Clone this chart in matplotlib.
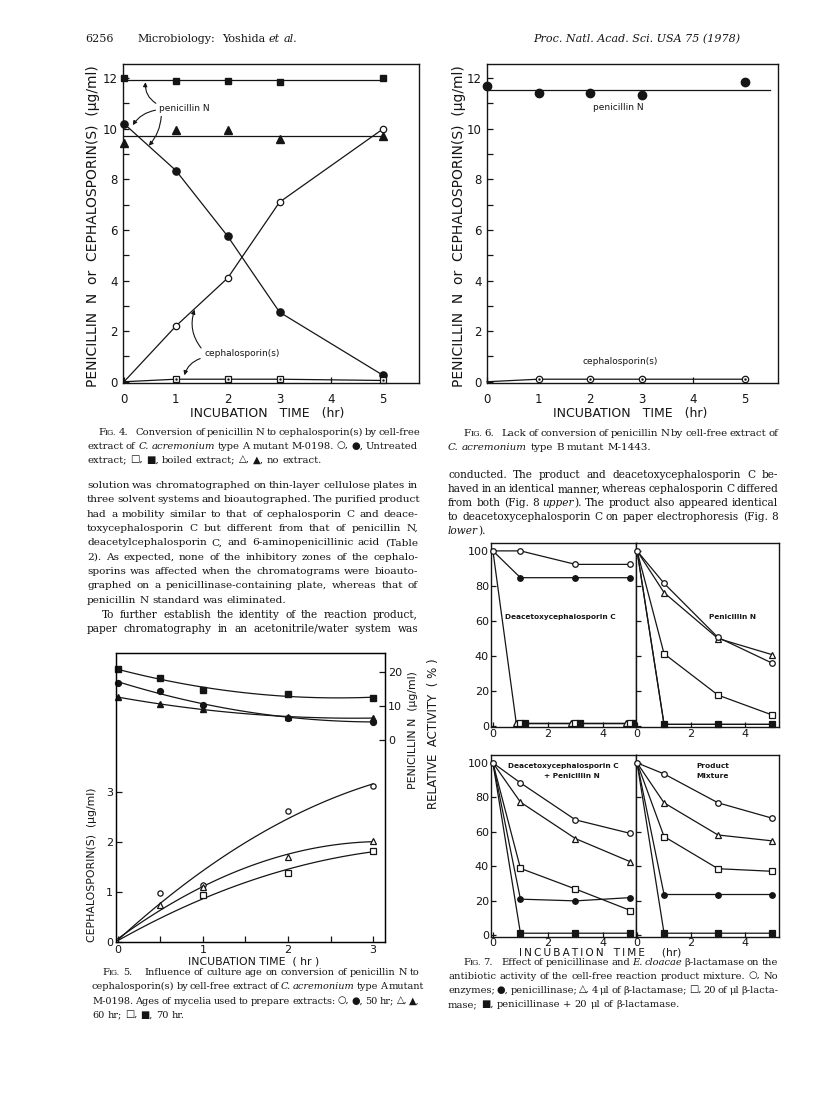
import re
import numpy as np
import matplotlib
matplotlib.use("Agg")
import matplotlib.pyplot as plt

plt.rcParams['font.family'] = ['DejaVu Sans']

W, H = 816, 1093
INK = '#151515'
SERIF = ['DejaVu Serif', 'DejaVu Sans']

# ---- Fig. 4 data (type A mutant M-0198) ----
t4 = [0, 1, 2, 3, 5]
untreated_ceph = [0, 2.2, 4.1, 7.1, 10.0]
untreated_pen = [10.2, 8.35, 5.75, 2.75, 0.25]
boiled_ceph = [0, 0.1, 0.1, 0.1, 0.05]
boiled_pen = [12.0, 11.9, 11.9, 11.85, 12.0]
noext_pen = [9.45, 9.95, 9.95, 9.6, 9.7]

# ---- Fig. 6 data (type B mutant M-1443) ----
t6 = [0, 1, 2, 3, 5]
pen6 = [11.7, 11.4, 11.4, 11.35, 11.85]
ceph6 = [0, 0.1, 0.1, 0.1, 0.1]

# ---- Fig. 5 data (culture age) ----
t5 = [0, 0.5, 1, 2, 3]
pen_50 = [16.8, 14.4, 10.3, 6.6, 5.4]
pen_60 = [12.6, 10.6, 9.1, 6.8, 6.5]
pen_70 = [20.9, 18.2, 14.7, 13.5, 12.4]
ceph_50 = [0, 0.98, 1.14, 2.62, 3.12]
ceph_60 = [0, 0.74, 1.1, 1.7, 2.03]
t5_sq = [0, 1, 2, 3]
ceph_70 = [0, 0.94, 1.38, 1.83]

# ---- Fig. 7 data (relative activity, %) ----
t7 = [0, 1, 3, 5]
dc_none = [100, 100, 92.3, 92.3]
dc_pase = [100, 84.7, 84.7, 84.7]
t7_dc_tri = [0, 0.85, 2.85, 4.85]
dc_bl4 = [100, 1.5, 1.5, 1.5]
t7_dc_sq = [1.0, 3.0, 5.0]
dc_bl20 = [1.5, 1.5, 1.5]
t7_dc_fsq = [1.15, 3.15, 5.15]
dc_mix = [1.5, 1.5, 1.5]

pn_none = [100, 81.5, 50.6, 36]
pn_pase = [100, 1, 1, 1]
pn_bl4 = [100, 76.2, 50, 40.8]
pn_bl20 = [100, 41.3, 17.7, 6.4]
pn_mix = [100, 1, 1, 1]

dp_none = [100, 88.4, 66.9, 59]
dp_pase = [100, 20.8, 19.8, 21.7]
dp_bl4 = [100, 77.2, 56, 42.5]
dp_bl20 = [100, 38.7, 26.7, 14.2]
dp_mix = [100, 1, 1, 1]

pm_none = [100, 93.6, 76.8, 67.9]
pm_pase = [100, 23.5, 23.5, 23.5]
pm_bl4 = [100, 76.8, 58.1, 54.7]
pm_bl20 = [100, 57.2, 38.5, 37]
pm_mix = [100, 1, 1, 1]

fig = plt.figure(figsize=(W / 100, H / 100), dpi=100)
renderer = fig.canvas.get_renderer()


def fx(x):
    return x / W


def fy(y):
    return 1 - y / H


def add_ax(left, top, right, bottom):
    ax = fig.add_axes([fx(left), fy(bottom), (right - left) / W, (bottom - top) / H])
    for s in ax.spines.values():
        s.set_linewidth(1.0)
        s.set_color(INK)
    ax.tick_params(direction='in', colors=INK, width=0.9, length=4)
    return ax


def parse(markup):
    pieces = []
    for m in re.finditer(r'\*([^*]+)\*|~([^~]+)~|([^*~]+)', markup):
        if m.group(1):
            pieces.append((m.group(1), 'italic', 1.0))
        elif m.group(2):
            s = m.group(2).upper()
            pieces.append((s[0], 'normal', 1.0))
            pieces.append((s[1:], 'normal', 0.78))
        else:
            pieces.append((m.group(3), 'normal', 1.0))
    words, cur, gap = [], [], 0
    for text, st, sf in pieces:
        for part in re.split(r'( +)', text):
            if not part:
                continue
            if part.startswith(' '):
                if cur:
                    words.append((gap, cur))
                    cur = []
                gap = len(part)
            else:
                cur.append((part, st, sf))
    if cur:
        words.append((gap, cur))
    return words


def build(y, markup, size):
    items, total = [], 0
    for gap, pcs in parse(markup):
        objs, w = [], 0
        for text, st, sf in pcs:
            t = fig.text(0, fy(y), text, fontsize=size * sf, family=SERIF,
                         style=st, va='baseline', ha='left', color=INK)
            tw = t.get_window_extent(renderer).width
            objs.append((t, tw))
            w += tw
        items.append((gap, objs, w))
        total += w
    return items, total


def fit_size(x0, x1, markup, size):
    # largest size (<= size) at which the line fits with tight word spaces
    items, total = build(0, markup, size)
    for _, objs, _ in items:
        for t, _ in objs:
            t.remove()
    sp = 0.32 * size * 100 / 72
    need = total + 0.6 * sp * sum(g for g, _, _ in items[1:])
    return min(size, size * (x1 - x0) / need)


def put_line(x0, x1, y, markup, size=7.6, justify=True):
    items, total = build(y, markup, size)
    sp = 0.32 * size * 100 / 72
    gaps = [g for g, _, _ in items[1:]]
    extra = 0
    if justify and gaps:
        extra = (x1 - x0 - total - sp * sum(gaps)) / sum(gaps)
        extra = max(extra, -0.4 * sp)
    x = x0
    for i, (g, objs, w) in enumerate(items):
        if i > 0:
            x += g * (sp + extra)
        for t, tw in objs:
            t.set_x(fx(x))
            x += tw


def paragraph(x0, x1, y0, step, lines, size=7.6, first_indent=0, last_just=False):
    n = len(lines)
    starts = [x0 + (first_indent if i == 0 else 0) for i in range(n)]
    just = [(i < n - 1) or last_just for i in range(n)]
    for i, ln in enumerate(lines):
        if just[i]:
            size = min(size, fit_size(starts[i], x1, ln, size))
    for i, ln in enumerate(lines):
        put_line(starts[i], x1, y0 + i * step, ln, size=size, justify=just[i])


def tracked(s):
    return '\u2009'.join(s)


def sans(x, y, s, size=8.5, rot=0, **kw):
    fig.text(fx(x), fy(y), s, fontsize=size, rotation=rot, ha='center',
             va='center', color=INK, **kw)


# ---- running heads ----
put_line(85, 110, 42, "6256", size=8, justify=False)
put_line(137, 400, 42, "Microbiology:  Yoshida *et al.*", size=8, justify=False)
fig.text(fx(533), fy(42), "Proc. Natl. Acad. Sci. USA 75 (1978)", fontsize=8,
         family=SERIF, style='italic', ha='left', va='baseline', color=INK)

# ---- Fig. 4 ----
ax4 = add_ax(123, 64, 419, 383)
ax4.set_xlim(-0.02, 5.69)
ax4.set_ylim(-0.05, 12.56)
ax4.plot([t4[0], t4[-1]], [np.mean(boiled_pen)] * 2, color=INK, lw=0.9)
ax4.plot(t4, boiled_pen, 's', color=INK, ms=4.6, clip_on=False)
ax4.plot([t4[0], t4[-1]], [np.mean(noext_pen)] * 2, color=INK, lw=0.9)
ax4.plot(t4, noext_pen, '^', color=INK, ms=5.2, clip_on=False)
ax4.plot(t4, untreated_pen, '-o', color=INK, lw=0.9, ms=5.2, clip_on=False)
ax4.plot(t4, untreated_ceph, color=INK, lw=0.9, clip_on=False)
ax4.plot(t4[1:], untreated_ceph[1:], 'o', mfc='white', mec=INK, mew=0.9, ms=4.6)
ax4.plot(t4, boiled_ceph, color=INK, lw=0.9, clip_on=False)
ax4.plot(t4[1:], boiled_ceph[1:], 's', mfc='white', mec=INK, mew=0.9, ms=4.2, clip_on=False)
ax4.plot(t4[1:], boiled_ceph[1:], '.', color=INK, ms=1.5, clip_on=False)
ax4.set_yticks(range(0, 13))
ax4.set_yticklabels([str(v) if v % 2 == 0 else '' for v in range(0, 13)])
ax4.set_xticks(range(0, 6))
ax4.tick_params(axis='y', labelsize=8.5, pad=4)
ax4.tick_params(axis='x', labelsize=8.5, pad=7)
arrow = dict(arrowstyle='-|>', color=INK, lw=0.8, mutation_scale=6)
ax4.text(0.68, 10.8, "penicillin N", fontsize=6.5, va='center', color=INK)
ax4.annotate("", xy=(0.42, 11.95), xytext=(0.66, 10.95),
             arrowprops=dict(connectionstyle='arc3,rad=-0.35', **arrow))
ax4.annotate("", xy=(0.14, 10.05), xytext=(0.66, 10.75),
             arrowprops=dict(connectionstyle='arc3,rad=0.25', **arrow))
ax4.annotate("", xy=(0.44, 9.25), xytext=(0.72, 10.6),
             arrowprops=dict(connectionstyle='arc3,rad=-0.2', **arrow))
ax4.text(1.55, 1.1, "cephalosporin(s)", fontsize=6.5, va='center', color=INK)
ax4.annotate("", xy=(1.38, 2.95), xytext=(1.52, 1.25),
             arrowprops=dict(connectionstyle='arc3,rad=-0.3', **arrow))
ax4.annotate("", xy=(1.15, 0.15), xytext=(1.52, 0.95),
             arrowprops=dict(connectionstyle='arc3,rad=0.3', **arrow))
sans(93, 226, "PENICILLIN  N  or  CEPHALOSPORIN(S)  (μg/ml)", 10, 90)
sans(267, 413, "INCUBATION   TIME   (hr)", 9)

# ---- Fig. 6 ----
ax6 = add_ax(487, 64, 778, 383)
ax6.set_xlim(0, 5.65)
ax6.set_ylim(-0.05, 12.56)
ax6.plot([t6[0], 5.5], [np.mean(pen6)] * 2, color=INK, lw=0.9)
ax6.plot(t6, pen6, 'o', color=INK, ms=6, clip_on=False)
ax6.plot(t6, ceph6, color=INK, lw=0.9, clip_on=False)
ax6.plot(t6[1:], ceph6[1:], 'o', mfc='white', mec=INK, mew=0.9, ms=4.6, clip_on=False)
ax6.plot(t6[1:], ceph6[1:], '.', color=INK, ms=1.5, clip_on=False)
ax6.set_yticks(range(0, 13))
ax6.set_yticklabels([str(v) if v % 2 == 0 else '' for v in range(0, 13)])
ax6.set_xticks(range(0, 6))
ax6.tick_params(axis='y', labelsize=8.5, pad=4)
ax6.tick_params(axis='x', labelsize=8.5, pad=7)
ax6.text(2.54, 10.85, "penicillin N", fontsize=6.5, ha='center', va='center', color=INK)
ax6.text(2.58, 0.8, "cephalosporin(s)", fontsize=6.5, ha='center', va='center', color=INK)
sans(459, 226, "PENICILLIN  N  or  CEPHALOSPORIN(S)  (μg/ml)", 10, 90)
sans(630, 413, "INCUBATION   TIME   (hr)", 9)

# ---- Fig. 5 ----
ax5 = add_ax(116, 653, 385, 942)
ax5.set_xlim(-0.02, 3.14)
ax5.set_ylim(0, 5.78)
ax5r = ax5.twinx()
ax5r.set_ylim(-59.4, 25.6)
ax5r.tick_params(direction='in', colors=INK, width=0.9, length=4, labelsize=8, pad=2)
tt = np.linspace(0, 3, 80)
for vals, mk in [(pen_70, 's'), (pen_50, 'o'), (pen_60, '^')]:
    ax5r.plot(tt, np.polyval(np.polyfit(t5, vals, 2), tt), color=INK, lw=0.9)
    ax5r.plot(t5, vals, mk, color=INK, ms=4.2, clip_on=False)
for tx, vals, mk in [(t5, ceph_50, 'o'), (t5, ceph_60, '^'), (t5_sq, ceph_70, 's')]:
    ax5.plot(tt, np.polyval(np.polyfit(tx, vals, 2), tt), color=INK, lw=0.9, clip_on=False)
    ax5.plot(tx[1:], vals[1:], mk, mfc='white', mec=INK, mew=0.9, ms=3.8, zorder=3)
ax5.set_yticks([0, 1, 2, 3])
ax5.set_xticks(np.arange(0, 3.01, 0.5))
ax5.set_xticklabels(['0', '', '1', '', '2', '', '3'])
ax5.tick_params(axis='both', labelsize=8, pad=2)
ax5r.set_yticks([0, 10, 20])
sans(92, 865, "CEPHALOSPORIN(S)  (μg/ml)", 7.8, 90)
sans(413, 730, "PENICILLIN N  (μg/ml)", 7.8, 90)
sans(254, 962, "INCUBATION TIME  ( hr )", 7.8)

# ---- Fig. 7 ----
def panel(ax, series, xlim, ylim, ylabels):
    ax.set_xlim(*xlim)
    ax.set_ylim(*ylim)
    for tx, vals, mk, filled, first in series:
        ax.plot(tx, vals, color=INK, lw=0.9, clip_on=False)
        s = 0 if first else 1
        ax.plot(tx[s:], vals[s:], mk, mfc=INK if filled else 'white', mec=INK,
                mew=0.9, ms=4, clip_on=False, zorder=3)
    ax.set_xticks(range(0, 6))
    ax.set_xticklabels(['0', '', '2', '', '4', ''])
    ax.set_yticks(range(0, 101, 20))
    if not ylabels:
        ax.set_yticklabels([])
    ax.tick_params(labelsize=8, pad=1.5, length=3.5)


def std_series(none, pase, bl4, bl20, mix):
    return [(t7, mix, 's', True, False), (t7, pase, 'o', True, False),
            (t7, bl20, 's', False, False), (t7, bl4, '^', False, False),
            (t7, none, 'o', False, True)]


lab = dict(fontsize=5.3, weight='bold', ha='center', va='center', color=INK)

axUL = add_ax(491, 543, 636, 727)
panel(axUL, [(t7_dc_tri, dc_bl4, '^', False, False),
             (t7_dc_sq, dc_bl20, 's', False, True),
             (t7_dc_fsq, dc_mix, 's', True, True),
             (t7, dc_pase, 'o', True, False),
             (t7, dc_none, 'o', False, True)],
      (-0.07, 5.2), (-0.5, 104.5), True)
axUL.text(2.44, 62.5, "Deacetoxycephalosporin C", **lab)

axUR = add_ax(636, 543, 779, 727)
panel(axUR, std_series(pn_none, pn_pase, pn_bl4, pn_bl20, pn_mix),
      (-0.04, 5.26), (-0.5, 104.5), False)
axUR.text(3.55, 62.5, "Penicillin N", **lab)

axLL = add_ax(491, 755, 636, 937)
panel(axLL, std_series(dp_none, dp_pase, dp_bl4, dp_bl20, dp_mix),
      (-0.07, 5.2), (-1.2, 104.6), True)
axLL.text(2.55, 98.3, "Deacetoxycephalosporin C", **lab)
axLL.text(2.87, 92.5, "+ Penicillin N", **lab)

axLR = add_ax(636, 755, 779, 937)
panel(axLR, std_series(pm_none, pm_pase, pm_bl4, pm_bl20, pm_mix),
      (-0.04, 5.26), (-1.2, 104.6), False)
axLR.text(2.8, 98.3, "Product", **lab)
axLR.text(2.8, 92.5, "Mixture", **lab)
for ax in (axLL, axLR):
    ax.tick_params(axis='x', pad=1)

sans(433, 734, "RELATIVE  ACTIVITY  ( % )", 8.5, 90)
sans(600, 952.5, tracked("INCUBATION") + "   " + tracked("TIME") + "     (hr)", 7.6)

# ---- captions and body text ----
paragraph(87, 418, 435, 14, [
    "~Fig.~ 4.    Conversion of penicillin N to cephalosporin(s) by cell-free",
    "extract of *C. acremonium* type A mutant M-0198. ○, ●, Untreated",
    "extract; □, ■, boiled extract; △, ▲, no extract.",
], first_indent=11)

paragraph(87, 418, 488, 14.35, [
    "solution was chromatographed on thin-layer cellulose plates in",
    "three solvent systems and bioautographed. The purified product",
    "had a mobility similar to that of cephalosporin C and deace-",
    "toxycephalosporin C but different from that of penicillin N,",
    "deacetylcephalosporin C, and 6-aminopenicillinic acid (Table",
    "2). As expected, none of the inhibitory zones of the cephalo-",
    "sporins was affected when the chromatograms were bioauto-",
    "graphed on a penicillinase-containing plate, whereas that of",
    "penicillin N standard was eliminated.",
])
# this paragraph runs on into the next column, so its last line is justified too
paragraph(87, 418, 617.5, 14.35, [
    "To further establish the identity of the reaction product,",
    "paper chromatography in an acetonitrile/water system was",
], first_indent=15, last_just=True)

paragraph(92, 420, 975, 14.3, [
    "~Fig.~ 5.    Influence of culture age on conversion of penicillin N to",
    "cephalosporin(s) by cell-free extract of *C. acremonium* type A mutant",
    "M-0198. Ages of mycelia used to prepare extracts: ○, ●, 50 hr; △, ▲,",
    "60 hr; □, ■, 70 hr.",
], first_indent=10)

paragraph(448, 778, 436, 14, [
    "~Fig.~ 6.    Lack of conversion of penicillin N by cell-free extract of",
    "*C. acremonium* type B mutant M-1443.",
], first_indent=15)

paragraph(448, 778, 478, 14, [
    "conducted. The product and deacetoxycephalosporin C be-",
    "haved in an identical manner, whereas cephalosporin C differed",
    "from both (Fig. 8 *upper*). The product also appeared identical",
    "to deacetoxycephalosporin C on paper electrophoresis (Fig. 8",
    "*lower*).",
])

paragraph(448, 778, 965, 14, [
    "~Fig.~ 7.    Effect of penicillinase and *E. cloacae* β-lactamase on the",
    "antibiotic activity of the cell-free reaction product mixture. ○, No",
    "enzymes; ●, penicillinase; △, 4 μl of β-lactamase; □, 20 of μl β-lacta-",
    "mase; ■, penicillinase + 20 μl of β-lactamase.",
], first_indent=15)

fig.savefig("out.png", dpi=100)
